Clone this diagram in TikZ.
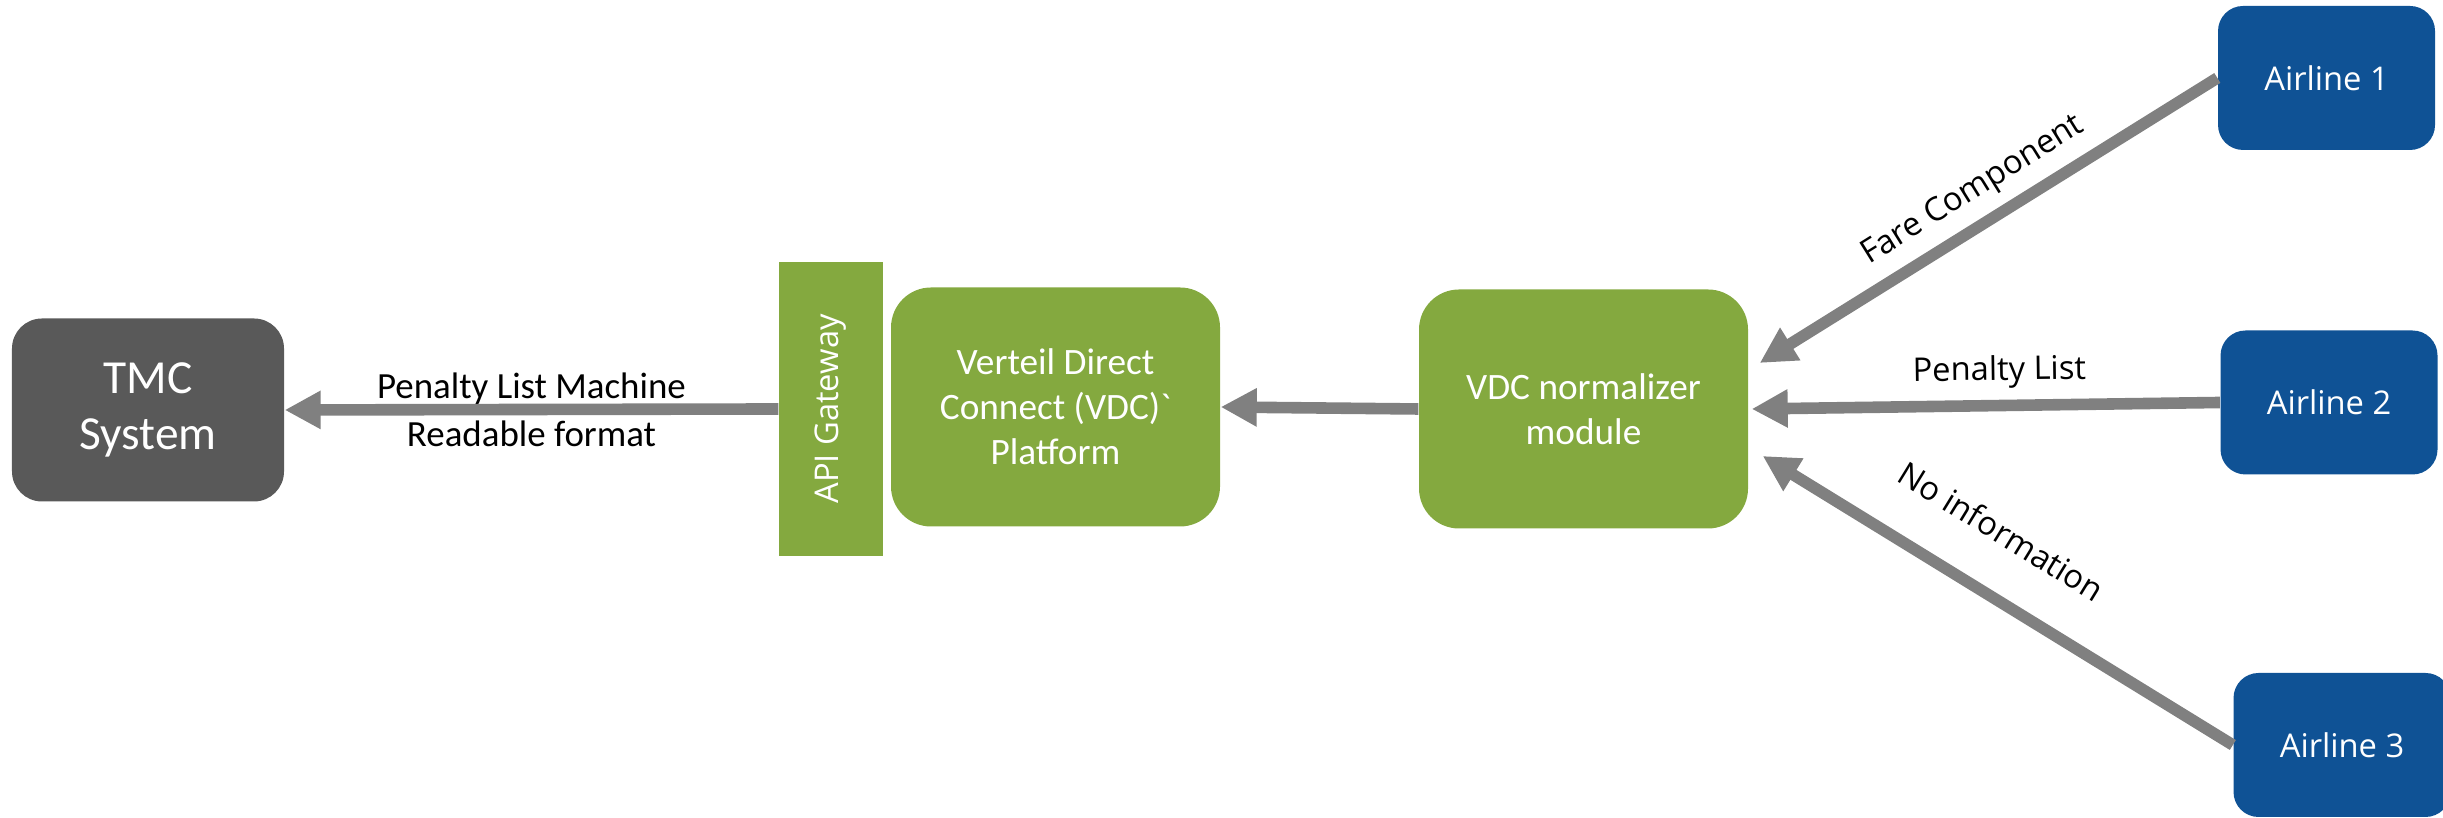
\documentclass[tikz,border=0pt]{standalone}
\usepackage{fontspec}
\setmainfont{Carlito}
\newfontfamily\segoe{Open Sans}
\usetikzlibrary{arrows.meta,positioning}
\definecolor{vdcgreen}{HTML}{84A93F}
\definecolor{tmcgrey}{HTML}{595959}
\definecolor{airblue}{HTML}{0F5295}
\definecolor{flowgrey}{HTML}{808080}

\begin{document}
\begin{tikzpicture}[>={Triangle[length=3.6mm,width=3.6mm]},
		vdcbox/.style={rounded corners=4mm, fill=vdcgreen, text=white, align=center, minimum width=3.29cm, minimum height=2.39cm, font=\fontsize{10.6}{12.8}\selectfont},
		airbox/.style={rounded corners=2.5mm, fill=airblue, text=white, minimum width=2.17cm, minimum height=1.44cm, font=\segoe\fontsize{9.3}{11}\selectfont},
		flow/.style={->, draw=flowgrey, line width=3.3pt},
		flowlabel/.style={font=\segoe\fontsize{9.3}{11}\selectfont, sloped}]
	\useasboundingbox (0,0) rectangle (24.43,8.18);
	% left side
	\node[rounded corners=3mm, fill=tmcgrey, text=white, align=center, minimum width=2.72cm, minimum height=1.83cm, font=\fontsize{13.5}{15.8}\selectfont] (tmc) at (1.48,4.08) {TMC\\System};
	\node[fill=vdcgreen, text=white, minimum width=2.94cm, minimum height=1.04cm, rotate=90, font=\segoe\fontsize{9.3}{11}\selectfont] (api) at (8.31,4.09) {API Gateway};
	\node[vdcbox] (vdc) at (10.555,4.11) {Verteil Direct\\Connect (VDC)\textasciigrave\\Platform};
	\node[vdcbox] (norm) at (15.835,4.09) {VDC normalizer\\module};
	% airlines
	\node[airbox] (air1) at (23.265,7.40) {Airline 1};
	\node[airbox] (air2) at (23.29,4.155) {Airline 2};
	\node[airbox] (air3) at (23.42,0.73) {Airline 3};
	\coordinate (in1) at ([shift={(0.11,0.46)}]norm.east);
	\coordinate (in2) at ([shift={(0.03,0)}]norm.east);
	\coordinate (in3) at ([shift={(0.14,-0.47)}]norm.east);
	% flows
	\draw[flow] (air1.west) -- (in1) node[flowlabel, pos=0.495, above]{Fare Component};
	\draw[flow] (air2.west) -- (in2) node[flowlabel, pos=0.47, above=0pt]{Penalty List};
	\draw[flow] (air3.west) -- (in3) node[flowlabel, pos=0.56, above=8.8pt]{No information};
	\draw[flow] (norm.west) -- (vdc.east);
	\draw[flow] (api.north) -- (tmc.east)
		node[midway, above=-3.5pt, font=\fontsize{10.5}{12.6}\selectfont]{Penalty List Machine}
		node[midway, below=-1.8pt, font=\fontsize{10.5}{12.6}\selectfont]{Readable format};
\end{tikzpicture}
\end{document}
